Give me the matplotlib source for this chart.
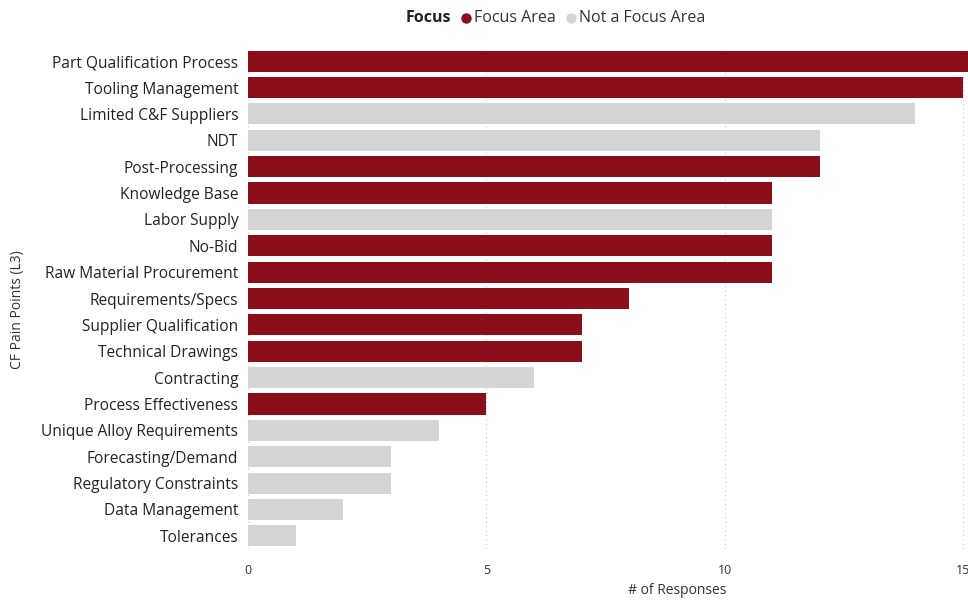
import matplotlib.pyplot as plt
from matplotlib.lines import Line2D

plt.rcParams['font.family'] = ['Open Sans', 'DejaVu Sans']

categories = ["Part Qualification Process", "Tooling Management", "Limited C&F Suppliers",
              "NDT", "Post-Processing", "Knowledge Base", "Labor Supply", "No-Bid",
              "Raw Material Procurement", "Requirements/Specs", "Supplier Qualification",
              "Technical Drawings", "Contracting", "Process Effectiveness",
              "Unique Alloy Requirements", "Forecasting/Demand", "Regulatory Constraints",
              "Data Management", "Tolerances"]
responses = [16, 15, 14, 12, 12, 11, 11, 11, 11, 8, 7, 7, 6, 5, 4, 3, 3, 2, 1]
focus = [True, True, False, False, True, True, False, True, True, True, True, True,
         False, True, False, False, False, False, False]
x_ticks = [0, 5, 10, 15]
legend_labels = ["Focus Area", "Not a Focus Area"]

red = "#8B0F1A"
grey = "#D5D5D5"
colors = [red if f else grey for f in focus]

W, H = 968, 603
fig = plt.figure(figsize=(W / 100, H / 100), dpi=100)
ax = fig.add_axes([248 / W, 1 - 549 / H, 720 / W, 501 / H])

ypos = list(range(len(categories)))
ax.barh(ypos, responses, height=0.8, color=colors, zorder=2)
ax.set_ylim(len(categories) - 0.5, -0.5)
ax.set_xlim(0, 15.105)
ax.set_yticks(ypos)
ax.set_yticklabels(categories, fontsize=11.2, color="#222222")
ax.set_xticks(x_ticks)
ax.set_xticklabels([str(t) for t in x_ticks], fontsize=9, color="#333333")
ax.tick_params(axis='both', length=0)
ax.tick_params(axis='x', pad=11)
ax.tick_params(axis='y', pad=7)
ax.grid(axis='x', linestyle=(0, (1, 3)), color="#C8C8C8", linewidth=0.8, zorder=0)
for s in ax.spines.values():
    s.set_visible(False)

# axis titles (x title is centred on the full, partly hidden, plot area)
fig.text(677 / W, 1 - 590 / H, "# of Responses", fontsize=10, color="#333333",
         ha='center', va='center')
fig.text(18 / W, 1 - 310 / H, "CF Pain Points (L3)", rotation=90, fontsize=10,
         color="#333333", ha='center', va='center')

# legend row
ly = 1 - 17.5 / H
fig.text(406 / W, ly, "Focus", fontsize=11.5, fontweight='bold',
         color="#222222", ha='left', va='center')
for cx, tx, c, lab in [(466, 474, red, legend_labels[0]), (571, 579, grey, legend_labels[1])]:
    fig.add_artist(Line2D([cx / W], [ly], marker='o', linestyle='', color=c,
                          markersize=6.5, transform=fig.transFigure))
    fig.text(tx / W, ly, lab, fontsize=11.5, color="#333333", ha='left', va='center')

fig.savefig("out.png", dpi=100)
